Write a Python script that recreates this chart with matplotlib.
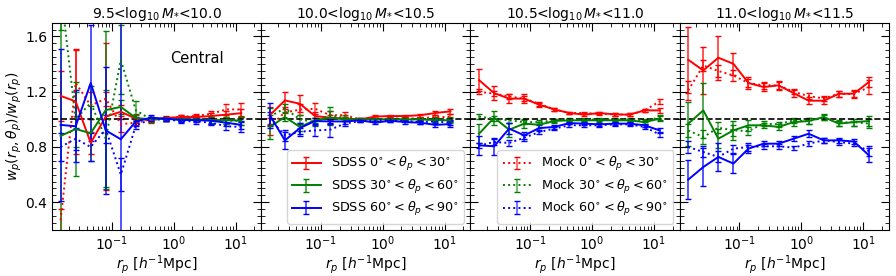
import matplotlib
matplotlib.use("Agg")
import matplotlib.pyplot as plt
from matplotlib.ticker import MultipleLocator, LogLocator, NullFormatter

rp = [0.01489, 0.02608, 0.04566, 0.07995, 0.1400, 0.2452, 0.4294,
      0.7518, 1.316, 2.305, 4.036, 7.068, 12.38]

titles = [r'9.5<$\log_{10}M_{*}$<10.0', r'10.0<$\log_{10}M_{*}$<10.5',
          r'10.5<$\log_{10}M_{*}$<11.0', r'11.0<$\log_{10}M_{*}$<11.5']
angle_labels = [r'$0^{\circ}<\theta_p<30^{\circ}$',
                r'$30^{\circ}<\theta_p<60^{\circ}$',
                r'$60^{\circ}<\theta_p<90^{\circ}$']

# ---- panel 1 : 9.5-10.0
p1_sdss_a = [1.17, 1.13, 0.83, 1.02, 1.055, 1.005, 0.995, 1.01, 1.017, 1.017, 1.024, 1.034, 1.045]
p1_sdss_a_err = [0.18, 0.38, 0.08, 0.53, 0.05, 0.03, 0.02, 0.015, 0.015, 0.015, 0.02, 0.025, 0.03]
p1_sdss_b = [0.88, 0.93, 0.90, 1.067, 1.09, 1.01, 1.0, 1.005, 1.0, 1.0, 0.995, 0.995, 0.99]
p1_sdss_b_err = [0.9, 0.34, 0.2, 0.57, 0.05, 0.03, 0.02, 0.015, 0.015, 0.015, 0.02, 0.025, 0.03]
p1_sdss_c = [0.96, 0.95, 1.263, 0.92, 0.856, 0.985, 1.012, 1.005, 0.995, 0.995, 0.99, 0.976, 0.96]
p1_sdss_c_err = [0.55, 0.26, 0.42, 0.46, 1.0, 0.03, 0.02, 0.015, 0.015, 0.015, 0.02, 0.025, 0.03]
p1_mock_a = [0.27, 1.265, 1.10, 1.15, 0.965, 0.976, 1.0, 1.005, 1.02, 1.024, 1.04, 1.072, 1.072]
p1_mock_a_err = [0.08, 0.24, 0.1, 0.05, 0.06, 0.02, 0.015, 0.015, 0.015, 0.015, 0.02, 0.04, 0.05]
p1_mock_b = [1.95, 1.0, 1.12, 0.86, 1.43, 1.065, 1.0, 1.0, 1.0, 1.0, 0.99, 0.99, 0.99]
p1_mock_b_err = [0.3, 0.2, 0.12, 0.35, 0.25, 0.07, 0.02, 0.015, 0.015, 0.015, 0.02, 0.025, 0.03]
p1_mock_c = [0.80, 0.86, 0.80, 0.93, 0.60, 0.957, 1.0, 1.0, 0.988, 0.985, 0.976, 0.95, 0.945]
p1_mock_c_err = [0.1, 0.08, 0.1, 0.1, 0.12, 0.03, 0.015, 0.015, 0.015, 0.015, 0.02, 0.03, 0.035]

# ---- panel 2 : 10.0-10.5
p2_sdss_a = [1.03, 1.137, 1.113, 1.024, 1.012, 1.005, 1.0, 1.02, 1.024, 1.024, 1.03, 1.046, 1.058]
p2_sdss_a_err = [0.06, 0.06, 0.06, 0.03, 0.02, 0.015, 0.01, 0.01, 0.01, 0.01, 0.012, 0.015, 0.02]
p2_sdss_b = [0.945, 1.017, 0.945, 0.993, 1.012, 1.0, 1.0, 1.0, 1.0, 1.0, 1.0, 0.995, 0.993]
p2_sdss_b_err = [0.09, 0.03, 0.03, 0.02, 0.05, 0.015, 0.01, 0.01, 0.01, 0.01, 0.012, 0.015, 0.02]
p2_sdss_c = [1.03, 0.848, 0.937, 0.988, 0.985, 0.985, 0.993, 0.976, 0.99, 0.98, 0.976, 0.96, 0.966]
p2_sdss_c_err = [0.09, 0.06, 0.04, 0.02, 0.02, 0.015, 0.01, 0.01, 0.01, 0.01, 0.012, 0.015, 0.02]
p2_mock_a = [0.95, 1.05, 1.07, 1.077, 1.03, 1.03, 1.0, 1.0, 1.007, 1.007, 1.007, 1.017, 1.017]
p2_mock_a_err = [0.06, 0.04, 0.04, 0.04, 0.03, 0.02, 0.01, 0.01, 0.01, 0.01, 0.012, 0.015, 0.02]
p2_mock_b = [1.02, 1.08, 1.0, 0.98, 1.03, 1.01, 1.0, 1.0, 1.0, 1.0, 1.0, 1.0, 1.0]
p2_mock_b_err = [0.06, 0.03, 0.03, 0.03, 0.06, 0.02, 0.01, 0.01, 0.01, 0.01, 0.012, 0.015, 0.02]
p2_mock_c = [1.0, 0.885, 0.91, 0.92, 0.925, 0.97, 0.988, 0.993, 0.993, 0.988, 0.98, 0.985, 0.976]
p2_mock_c_err = [0.05, 0.04, 0.03, 0.04, 0.05, 0.02, 0.01, 0.01, 0.01, 0.01, 0.012, 0.015, 0.02]

# ---- panel 3 : 10.5-11.0
p3_sdss_a = [1.284, 1.19, 1.15, 1.15, 1.106, 1.072, 1.046, 1.034, 1.046, 1.036, 1.034, 1.065, 1.065]
p3_sdss_a_err = [0.08, 0.05, 0.03, 0.03, 0.015, 0.012, 0.01, 0.01, 0.01, 0.01, 0.01, 0.012, 0.02]
p3_sdss_b = [0.896, 1.012, 0.925, 0.969, 0.961, 0.988, 0.993, 0.993, 0.993, 0.993, 0.993, 0.98, 1.005]
p3_sdss_b_err = [0.07, 0.05, 0.05, 0.03, 0.02, 0.012, 0.01, 0.01, 0.01, 0.01, 0.01, 0.012, 0.02]
p3_sdss_c = [0.812, 0.805, 0.933, 0.884, 0.937, 0.945, 0.973, 0.969, 0.964, 0.969, 0.969, 0.957, 0.92]
p3_sdss_c_err = [0.07, 0.06, 0.04, 0.025, 0.02, 0.012, 0.01, 0.01, 0.01, 0.01, 0.01, 0.012, 0.02]
p3_mock_a = [1.20, 1.186, 1.166, 1.15, 1.113, 1.072, 1.046, 1.046, 1.04, 1.036, 1.034, 1.065, 1.13]
p3_mock_a_err = [0.02, 0.02, 0.02, 0.02, 0.015, 0.012, 0.01, 0.01, 0.01, 0.01, 0.01, 0.012, 0.02]
p3_mock_b = [1.02, 1.005, 0.993, 0.98, 0.98, 0.993, 0.998, 0.998, 0.998, 0.998, 0.998, 0.993, 1.012]
p3_mock_b_err = [0.02, 0.02, 0.02, 0.015, 0.015, 0.012, 0.01, 0.01, 0.01, 0.01, 0.01, 0.012, 0.02]
p3_mock_c = [0.81, 0.836, 0.829, 0.867, 0.908, 0.933, 0.957, 0.957, 0.957, 0.964, 0.964, 0.945, 0.89]
p3_mock_c_err = [0.02, 0.02, 0.02, 0.02, 0.015, 0.012, 0.01, 0.01, 0.01, 0.01, 0.01, 0.012, 0.02]

# ---- panel 4 : 11.0-11.5
p4_sdss_a = [1.431, 1.354, 1.446, 1.402, 1.263, 1.234, 1.246, 1.19, 1.135, 1.135, 1.185, 1.186, 1.27]
p4_sdss_a_err = [0.24, 0.17, 0.16, 0.08, 0.04, 0.03, 0.03, 0.025, 0.025, 0.025, 0.02, 0.025, 0.035]
p4_sdss_b = [0.969, 1.065, 0.86, 0.92, 0.957, 0.957, 0.945, 0.98, 0.988, 1.017, 0.969, 0.98, 0.988]
p4_sdss_b_err = [0.16, 0.2, 0.07, 0.07, 0.04, 0.02, 0.02, 0.025, 0.025, 0.025, 0.02, 0.025, 0.035]
p4_sdss_c = [0.564, 0.655, 0.728, 0.68, 0.788, 0.824, 0.824, 0.86, 0.896, 0.848, 0.848, 0.84, 0.74]
p4_sdss_c_err = [0.14, 0.14, 0.1, 0.07, 0.03, 0.02, 0.02, 0.02, 0.025, 0.02, 0.02, 0.02, 0.05]
p4_mock_a = [1.21, 1.39, 1.35, 1.318, 1.263, 1.246, 1.246, 1.2, 1.168, 1.152, 1.185, 1.183, 1.233]
p4_mock_a_err = [0.07, 0.04, 0.04, 0.04, 0.03, 0.025, 0.025, 0.02, 0.02, 0.02, 0.02, 0.025, 0.05]
p4_mock_b = [0.92, 0.872, 0.94, 0.92, 0.916, 0.969, 0.964, 0.993, 0.988, 1.012, 0.975, 0.98, 0.969]
p4_mock_b_err = [0.05, 0.05, 0.04, 0.04, 0.03, 0.02, 0.02, 0.02, 0.02, 0.02, 0.02, 0.025, 0.035]
p4_mock_c = [0.80, 0.764, 0.728, 0.788, 0.80, 0.805, 0.805, 0.795, 0.824, 0.848, 0.836, 0.824, 0.77]
p4_mock_c_err = [0.04, 0.04, 0.04, 0.03, 0.03, 0.02, 0.02, 0.015, 0.02, 0.02, 0.02, 0.02, 0.035]

panels = [
    ([p1_sdss_a, p1_sdss_b, p1_sdss_c], [p1_sdss_a_err, p1_sdss_b_err, p1_sdss_c_err],
     [p1_mock_a, p1_mock_b, p1_mock_c], [p1_mock_a_err, p1_mock_b_err, p1_mock_c_err]),
    ([p2_sdss_a, p2_sdss_b, p2_sdss_c], [p2_sdss_a_err, p2_sdss_b_err, p2_sdss_c_err],
     [p2_mock_a, p2_mock_b, p2_mock_c], [p2_mock_a_err, p2_mock_b_err, p2_mock_c_err]),
    ([p3_sdss_a, p3_sdss_b, p3_sdss_c], [p3_sdss_a_err, p3_sdss_b_err, p3_sdss_c_err],
     [p3_mock_a, p3_mock_b, p3_mock_c], [p3_mock_a_err, p3_mock_b_err, p3_mock_c_err]),
    ([p4_sdss_a, p4_sdss_b, p4_sdss_c], [p4_sdss_a_err, p4_sdss_b_err, p4_sdss_c_err],
     [p4_mock_a, p4_mock_b, p4_mock_c], [p4_mock_a_err, p4_mock_b_err, p4_mock_c_err]),
]
colors = ['red', 'green', 'blue']

plt.rcParams['font.size'] = 10
fig, axes = plt.subplots(1, 4, figsize=(8.96, 2.76), dpi=100, sharey=True)
fig.subplots_adjust(left=0.058, right=0.992, top=0.918, bottom=0.167, wspace=0)

for i, ax in enumerate(axes):
    sv, se, mv, me = panels[i]
    sdss_handles, mock_handles = [], []
    for j in range(3):
        h = ax.errorbar(rp, sv[j], yerr=se[j], color=colors[j], ls='-', lw=1.4,
                        elinewidth=1.1, capsize=2.5, capthick=1.0,
                        label='SDSS ' + angle_labels[j])
        for b in h[2]:
            b.set_alpha(0.85)
        sdss_handles.append(h)
        h2 = ax.errorbar(rp, mv[j], yerr=me[j], color=colors[j], ls=':', lw=1.4,
                         elinewidth=1.1, capsize=2.5, capthick=1.0,
                         label='Mock ' + angle_labels[j])
        for b in h2[2]:
            b.set_alpha(0.7)
        mock_handles.append(h2)
    ax.axhline(1.0, color='black', ls='--', lw=1.2)
    ax.set_xscale('log')
    ax.set_xlim(0.0108, 26)
    ax.set_ylim(0.2, 1.7)
    ax.yaxis.set_major_locator(MultipleLocator(0.4))
    ax.yaxis.set_minor_locator(MultipleLocator(0.05))
    ax.xaxis.set_major_locator(LogLocator(base=10, numticks=10))
    ax.xaxis.set_minor_locator(LogLocator(base=10, subs=range(2, 10), numticks=20))
    ax.xaxis.set_minor_formatter(NullFormatter())
    ax.tick_params(which='both', direction='in', top=True, right=True, labelsize=10)
    ax.tick_params(which='major', length=6)
    ax.tick_params(which='minor', length=3)
    ax.set_title(titles[i], fontsize=10, pad=3)
    ax.set_xlabel(r'$r_p$ [$h^{-1}$Mpc]', fontsize=10, labelpad=0)
    if i == 1:
        ax.legend(handles=sdss_handles, loc='lower right', fontsize=9.2,
                  handlelength=2.2, borderaxespad=0.5, labelspacing=0.35)
    if i == 2:
        ax.legend(handles=mock_handles, loc='lower right', fontsize=9.2,
                  handlelength=2.2, borderaxespad=0.5, labelspacing=0.35)
    if i == 0:
        ax.text(0.694, 0.825, 'Central', transform=ax.transAxes, ha='center',
                va='center', fontsize=10.5)

axes[0].set_ylabel(r'$w_p(r_p,\theta_p)/w_p(r_p)$', fontsize=10, labelpad=1)

fig.savefig('out.png', dpi=100)
